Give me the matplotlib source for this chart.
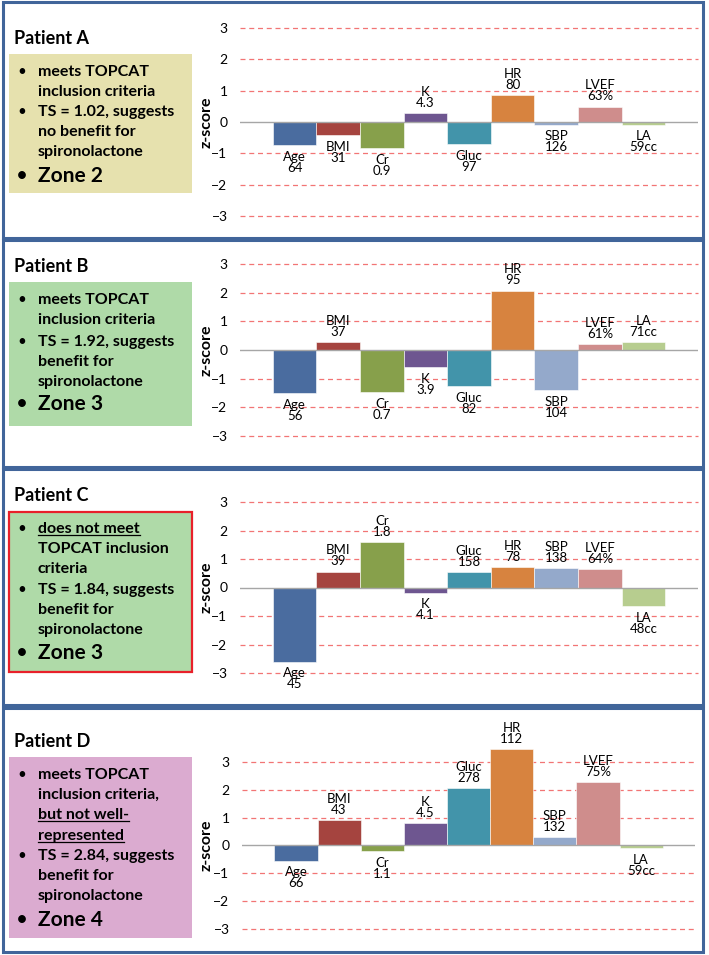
import matplotlib
matplotlib.use("Agg")
import matplotlib.pyplot as plt
from matplotlib.patches import Rectangle

W, H = 709, 955
plt.rcParams['font.family'] = ['Lato', 'DejaVu Sans']

# ---- data ----
params = ["Age", "BMI", "Cr", "K", "Gluc", "HR", "SBP", "LVEF", "LA"]
bar_colors = ["#4a6c9f", "#a5443f", "#87a04b", "#6e5690", "#4294aa",
              "#d7833f", "#94a9cb", "#cf8d8c", "#b7cd8f"]

patients = ["Patient A", "Patient B", "Patient C", "Patient D"]

z_a = [-0.74, -0.42, -0.83, 0.28, -0.71, 0.87, -0.09, 0.49, -0.09]
z_b = [-1.51, 0.29, -1.48, -0.60, -1.26, 2.07, -1.41, 0.20, 0.27]
z_c = [-2.60, 0.56, 1.59, -0.18, 0.53, 0.73, 0.69, 0.65, -0.65]
z_d = [-0.54, 0.92, -0.21, 0.80, 2.06, 3.45, 0.30, 2.27, -0.10]

raw_a = ["64", "31", "0.9", "4.3", "97", "80", "126", "63%", "59cc"]
raw_b = ["56", "37", "0.7", "3.9", "82", "95", "104", "61%", "71cc"]
raw_c = ["45", "39", "1.8", "4.1", "158", "78", "138", "64%", "48cc"]
raw_d = ["66", "43", "1.1", "4.5", "278", "112", "132", "75%", "59cc"]

items_a = [["meets TOPCAT", "inclusion criteria"],
           ["TS = 1.02, suggests", "no benefit for", "spironolactone"]]
items_b = [["meets TOPCAT", "inclusion criteria"],
           ["TS = 1.92, suggests", "benefit for", "spironolactone"]]
items_c = [["does not meet", "TOPCAT inclusion", "criteria"],
           ["TS = 1.84, suggests", "benefit for", "spironolactone"]]
items_d = [["meets TOPCAT", "inclusion criteria,", "but not well-", "represented"],
           ["TS = 2.84, suggests", "benefit for", "spironolactone"]]
zones = ["Zone 2", "Zone 3", "Zone 3", "Zone 4"]
underlined = {2: ["does not meet"], 3: ["but not well-", "represented"]}

box_colors = ["#e6e1ae", "#afdaa8", "#afdaa8", "#dbabd0"]

all_z = [z_a, z_b, z_c, z_d]
all_raw = [raw_a, raw_b, raw_c, raw_d]
all_items = [items_a, items_b, items_c, items_d]

# ---- layout (pixels from top) ----
frame = [(2, 238), (240, 467), (469, 705), (708, 952)]
title_base = [44, 272, 501, 747]
box_y = [(54, 193), (282, 426), (512, 672), (757, 938)]
line_base = [[76, 96, 116, 136, 156], [304, 324, 346, 366, 386],
             [533, 553, 573, 594, 614, 634],
             [779, 799, 819, 840, 860, 880, 900]]
zone_base = [182, 410, 659, 926]
ax_x = [(240, 698), (240, 698), (240, 698), (242, 695)]
ax_y = [(28, 216), (264, 436), (502, 673), (762, 929)]

fig = plt.figure(figsize=(W / 100, H / 100), dpi=100)
ax0 = fig.add_axes([0, 0, 1, 1])
ax0.set_xlim(0, W)
ax0.set_ylim(H, 0)
ax0.axis('off')

under_texts = []
for p in range(4):
    t0, t1 = frame[p]
    ax0.add_patch(Rectangle((3, t0), 700, t1 - t0, fill=False,
                            edgecolor="#41659a", lw=2.2))
    ax0.text(14, title_base[p], patients[p], fontsize=13, fontweight='bold',
             va='baseline', ha='left')
    b0, b1 = box_y[p]
    ax0.add_patch(Rectangle((9, b0), 183, b1 - b0, facecolor=box_colors[p],
                            edgecolor="#e8202a" if p == 2 else 'none',
                            lw=1.6))
    k = 0
    for item in all_items[p]:
        for j, line in enumerate(item):
            yb = line_base[p][k]
            if j == 0:
                ax0.text(22, yb, "•", fontsize=11, ha='center', va='baseline')
            t = ax0.text(38, yb, line, fontsize=11.5, fontweight='bold',
                         ha='left', va='baseline')
            if line in underlined.get(p, []):
                under_texts.append((t, yb))
            k += 1
    ax0.text(22, zone_base[p], "•", fontsize=15, ha='center', va='baseline')
    ax0.text(38, zone_base[p], zones[p], fontsize=15, fontweight='bold',
             ha='left', va='baseline')

    # bar chart
    x0, x1 = ax_x[p]
    y3, ym3 = ax_y[p]
    ax = fig.add_axes([x0 / W, 1 - ym3 / H, (x1 - x0) / W, (ym3 - y3) / H])
    ax.set_facecolor('none')
    ax.set_xlim(-1.25, 9.25)
    ax.set_ylim(-3, 3)
    for g in [-3, -2, -1, 1, 2, 3]:
        ax.axhline(g, color="#f27575", lw=0.9, ls=(0, (4, 3)), zorder=1,
                   clip_on=False)
    xs = list(range(len(params)))
    ax.bar(xs, all_z[p], width=1.0, color=bar_colors, edgecolor='white',
           lw=0.4, zorder=2, clip_on=False)
    ax.axhline(0, color="#a6a6a6", lw=1.0, zorder=3)
    for i, v in enumerate(all_z[p]):
        lab = params[i] + "\n" + all_raw[p][i]
        if v >= 0:
            ax.annotate(lab, (i, v), xytext=(0, 3), textcoords='offset points',
                        ha='center', va='bottom', fontsize=9.5, linespacing=0.9,
                        annotation_clip=False)
        else:
            ax.annotate(lab, (i, v), xytext=(0, -4), textcoords='offset points',
                        ha='center', va='top', fontsize=9.5, linespacing=0.9,
                        annotation_clip=False)
    ax.set_xticks([])
    ax.set_yticks([-3, -2, -1, 0, 1, 2, 3])
    ax.tick_params(axis='y', length=0, pad=9, labelsize=10)
    for s in ax.spines.values():
        s.set_visible(False)
    ax0.text(207, (y3 + ym3) / 2, "z-score", rotation=90, fontsize=11.5,
             fontweight='bold', ha='center', va='center')

fig.canvas.draw()
r = fig.canvas.get_renderer()
for t, yb in under_texts:
    bb = t.get_window_extent(r)
    ax0.plot([bb.x0, bb.x1], [yb + 1.8, yb + 1.8], color='black', lw=0.9)

fig.savefig("out.png", dpi=100)
